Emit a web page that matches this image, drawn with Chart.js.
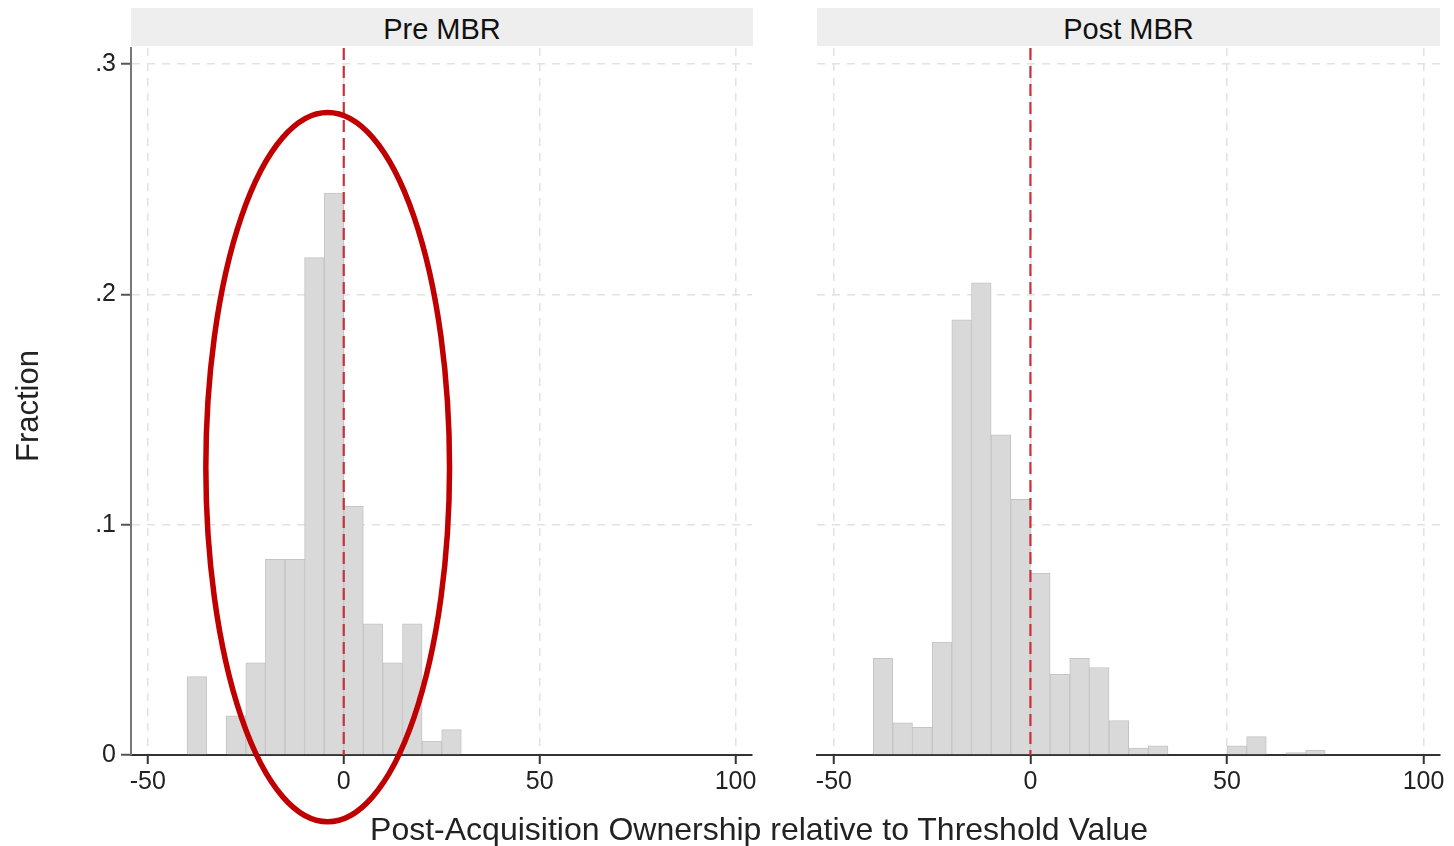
<!DOCTYPE html>
<html>
<head>
<meta charset="utf-8">
<script src="https://cdn.jsdelivr.net/npm/chart.js@4"></script>
<style>
  body { margin: 0; background: #fff; font-family: "Liberation Sans", Arial, sans-serif; }
  #wrap { position: relative; width: 1454px; height: 846px; overflow: hidden; }
  canvas { position: absolute; top: 0; }
  .strip { position: absolute; top: 8px; height: 38px; background: #eeeeee; color: #111;
           font-size: 29px; line-height: 42px; text-align: center; }
  .ytitle { position: absolute; left: 28px; top: 406px; transform: translate(-50%, -50%) rotate(-90deg);
            font-size: 31px; color: #222; white-space: nowrap; }
  .xtitle { position: absolute; left: 759px; top: 829px; transform: translate(-50%, -50%);
            font-size: 32px; color: #222; white-space: nowrap; }
</style>
</head>
<body>
<div id="wrap">
  <canvas id="pre" width="770" height="846" style="left:0"></canvas>
  <canvas id="post" width="684" height="846" style="left:770px"></canvas>
  <div class="strip" style="left:131px; width:622px">Pre MBR</div>
  <div class="strip" style="left:817px; width:623px">Post MBR</div>
  <div class="ytitle">Fraction</div>
  <div class="xtitle">Post-Acquisition Ownership relative to Threshold Value</div>
</div>
<script>
// bin starts (width 5)
const preBins = [-40, -35, -30, -25, -20, -15, -10, -5, 0, 5, 10, 15, 20, 25];
const preFraction = [0.034, 0, 0.017, 0.040, 0.085, 0.085, 0.216, 0.244, 0.108, 0.057, 0.040, 0.057, 0.006, 0.011];

const postBins = [-40, -35, -30, -25, -20, -15, -10, -5, 0, 5, 10, 15, 20, 25, 30, 35, 40, 45, 50, 55, 60, 65, 70];
const postFraction = [0.042, 0.014, 0.012, 0.049, 0.189, 0.205, 0.139, 0.111, 0.079, 0.035, 0.042, 0.038, 0.015, 0.003, 0.004, 0, 0, 0, 0.004, 0.008, 0, 0.001, 0.002];

const xTicks = [-50, 0, 50, 100];
const yTicks = [0, 0.1, 0.2, 0.3];
const binWidth = 5;
const threshold = 0;

const gridColor = '#e2e2e2';
const font = { family: '"Liberation Sans", Arial, sans-serif', size: 25 };

function toPoints(bins, vals) {
    const pts = [];
    bins.forEach((b, i) => {
        if (vals[i] > 0) pts.push({ x: b + binWidth / 2, y: vals[i] });
    });
    return pts;
}

// red dashed threshold line
const thresholdLine = {
    id: 'thresholdLine',
    afterDatasetsDraw(chart) {
        const { ctx, chartArea, scales } = chart;
        const x = scales.x.getPixelForValue(threshold);
        ctx.save();
        ctx.strokeStyle = '#c8313a';
        ctx.lineWidth = 2.2;
        ctx.setLineDash([12, 6]);
        ctx.beginPath();
        ctx.moveTo(x, chartArea.top);
        ctx.lineTo(x, chartArea.bottom);
        ctx.stroke();
        ctx.restore();
    }
};

// highlight ellipse on the Pre MBR panel, placed in data units
const highlight = {
    id: 'highlight',
    afterDraw(chart) {
        if (!chart.options.plugins.highlight.show) return;
        const { ctx, scales } = chart;
        const cx = scales.x.getPixelForValue(-4.1);
        const cy = scales.y.getPixelForValue(0.125);
        const rx = Math.abs(scales.x.getPixelForValue(27) - cx);
        const ry = Math.abs(scales.y.getPixelForValue(0.279) - cy);
        ctx.save();
        ctx.strokeStyle = '#c00000';
        ctx.lineWidth = 5.5;
        ctx.beginPath();
        ctx.ellipse(cx, cy, rx, ry, 0, 0, Math.PI * 2);
        ctx.stroke();
        ctx.restore();
    }
};

function makeChart(id, bins, vals, opts) {
    return new Chart(document.getElementById(id), {
        type: 'bar',
        data: {
            datasets: [{
                data: toPoints(bins, vals),
                backgroundColor: '#d9d9d9',
                borderColor: '#c4c4c4',
                borderWidth: 1,
                barPercentage: 1,
                categoryPercentage: 1,
                borderSkipped: 'bottom'
            }]
        },
        options: {
            responsive: false,
            animation: false,
            layout: { padding: opts.padding },
            plugins: {
                legend: { display: false },
                tooltip: { enabled: false },
                highlight: { show: opts.ellipse }
            },
            scales: {
                x: {
                    type: 'linear',
                    offset: false,
                    min: -54.3,
                    max: 104.2,
                    afterBuildTicks: (axis) => { axis.ticks = xTicks.map(v => ({ value: v })); },
                    afterFit: (axis) => { axis.height = 91; },
                    grid: {
                        offset: false,
                        color: gridColor,
                        lineWidth: 1.5,
                        tickColor: '#333',
                        tickLength: 9,
                        tickWidth: 2,
                        tickBorderDash: []
                    },
                    border: { display: true, color: '#333', width: 2, dash: [8, 7] },
                    ticks: { color: '#222', font: font, padding: 3, maxRotation: 0 }
                },
                y: {
                    min: 0,
                    max: 0.307,
                    afterBuildTicks: (axis) => { axis.ticks = yTicks.map(v => ({ value: v })); },
                    afterFit: (axis) => { axis.width = opts.yWidth; },
                    grid: {
                        color: (c) => c.tick && c.tick.value === 0 ? 'rgba(0,0,0,0)' : gridColor,
                        lineWidth: 1.5,
                        drawTicks: opts.yTicks,
                        tickColor: '#555',
                        tickLength: 10,
                        tickWidth: 2,
                        tickBorderDash: []
                    },
                    border: { display: opts.yTicks, color: '#777', width: 2, dash: [8, 7] },
                    ticks: {
                        display: opts.yTicks,
                        color: '#222',
                        font: font,
                        padding: 5,
                        callback: (v) => v === 0 ? '0' : v.toFixed(1).replace(/^0/, '')
                    }
                }
            }
        },
        plugins: [thresholdLine, highlight]
    });
}

makeChart('pre', preBins, preFraction, {
    padding: { top: 48, right: 18, left: 0, bottom: 0 },
    yWidth: 131,
    yTicks: true,
    ellipse: true
});

makeChart('post', postBins, postFraction, {
    padding: { top: 48, right: 14, left: 47, bottom: 0 },
    yWidth: 0,
    yTicks: false,
    ellipse: false
});
</script>
</body>
</html>
